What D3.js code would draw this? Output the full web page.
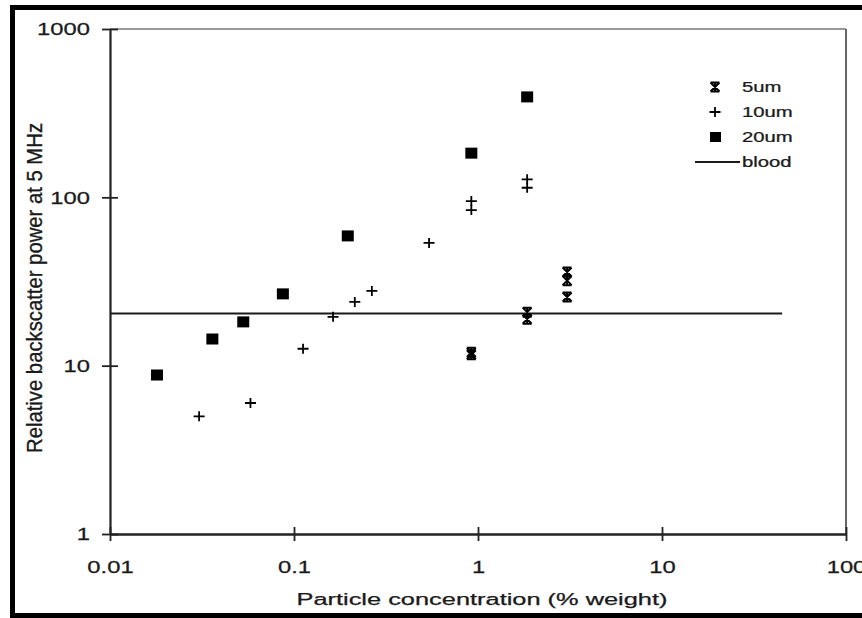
<!DOCTYPE html>
<html>
<head>
<meta charset="UTF-8" />
<script src="https://d3js.org/d3.v7.min.js"></script>
<title>Backscatter vs concentration</title>
<style>
  body { margin: 0; background: #fff; }
  text { font-family: "Liberation Sans", Arial, Helvetica, sans-serif; fill: #1a1a1a; stroke: #1a1a1a; stroke-width: 0.25px; }
</style>
</head>
<body>
<script type="text/javascript">

// data
var xTicks = [0.01, 0.1, 1, 10, 100];
var yTicks = [1, 10, 100, 1000];

var um5x = [0.92, 0.92, 1.85, 1.85, 3.05, 3.05, 3.05];
var um5y = [12.0, 11.6, 20.8, 18.9, 36, 32, 25.6];

var um10x = [0.0305, 0.058, 0.112, 0.163, 0.214, 0.265, 0.542, 0.92, 0.92, 1.85, 1.85];
var um10y = [5.0, 6.0, 12.6, 19.5, 23.9, 27.8, 53.6, 95, 84, 128, 114];

var um20x = [0.018, 0.036, 0.053, 0.087, 0.196, 0.92, 1.85];
var um20y = [8.8, 14.4, 18.2, 26.7, 59, 183, 395];

var bloodX = [0.01, 45];
var bloodY = [20.4, 20.4];

var legendNames = ["5um", "10um", "20um", "blood"];

var W = 862, H = 618;
var margin = {top: 29, right: 16, bottom: 84, left: 110},
    width = 846 - margin.left,
    height = 534 - margin.top;

var svg = d3.select("body").append("svg")
    .attr("width", W)
    .attr("height", H);

svg.append("rect").attr("width", W).attr("height", H).attr("fill", "#fff");

// thick outer frame
svg.append("rect")
    .attr("x", 12.5).attr("y", 7.5)
    .attr("width", 870).attr("height", 608)
    .attr("fill", "none")
    .attr("stroke", "#000")
    .attr("stroke-width", 5);

var g = svg.append("g")
    .attr("transform", "translate(" + margin.left + "," + margin.top + ")");

var x = d3.scaleLog().domain([0.01, 100]).range([0, width]);
var y = d3.scaleLog().domain([1, 1000]).range([height, 0]);

// top and right box lines
g.append("line").attr("x1", 0).attr("x2", width).attr("y1", 0).attr("y2", 0)
    .attr("stroke", "#777").attr("stroke-width", 1.5);
g.append("line").attr("x1", width).attr("x2", width).attr("y1", 0).attr("y2", height)
    .attr("stroke", "#666").attr("stroke-width", 2);

// X axis
var xa = g.append("g")
    .attr("transform", "translate(0," + height + ")")
    .call(d3.axisBottom(x).tickValues(xTicks).tickFormat(d3.format("~g")).tickSizeOuter(0));
xa.select(".domain").attr("stroke", "#222").attr("stroke-width", 2.5);
xa.selectAll(".tick line").attr("y1", -7).attr("y2", 7).attr("stroke", "#222").attr("stroke-width", 1.8);
xa.selectAll(".tick text")
    .attr("y", 39).attr("dy", 0)
    .attr("transform", "scale(1.4,1)")
    .style("font-size", "17px").attr("fill", "#1a1a1a");

// Y axis
var ya = g.append("g")
    .call(d3.axisLeft(y).tickValues(yTicks).tickFormat(d3.format("~g")).tickSizeOuter(0));
ya.select(".domain").attr("stroke", "#222").attr("stroke-width", 2.2);
ya.selectAll(".tick line").attr("x1", -8).attr("x2", 8).attr("stroke", "#222").attr("stroke-width", 1.8);
ya.selectAll(".tick text")
    .attr("x", -20 / 1.4).attr("dy", "0.35em")
    .attr("transform", "scale(1.4,1)")
    .style("font-size", "17px").attr("fill", "#1a1a1a");

// axis titles
svg.append("text")
    .attr("x", 482).attr("y", 605)
    .attr("text-anchor", "middle")
    .attr("textLength", 371).attr("lengthAdjust", "spacingAndGlyphs")
    .style("font-size", "16px")
    .text("Particle concentration (% weight)");

svg.append("text")
    .attr("transform", "translate(42,288) scale(1.4,1) rotate(-90)")
    .attr("text-anchor", "middle")
    .attr("textLength", 330).attr("lengthAdjust", "spacingAndGlyphs")
    .style("font-size", "16px")
    .text("Relative backscatter power at 5 MHz");

// marker shapes
var hourglass = "M-4.5,-4.5L4.5,4.5M4.5,-4.5L-4.5,4.5M-4.5,-4.5H4.5M-4.5,4.5H4.5M0,-4.5V4.5";
var plus = "M-5.5,0H5.5M0,-5V5";

// blood line
var line = d3.line().x(function(d) { return x(d[0]); }).y(function(d) { return y(d[1]); });
g.append("path")
    .datum(d3.zip(bloodX, bloodY))
    .attr("d", line)
    .attr("fill", "none").attr("stroke", "#1a1a1a").attr("stroke-width", 2);

// 20um squares
g.selectAll(".sq")
    .data(d3.zip(um20x, um20y))
    .enter().append("rect")
    .attr("x", function(d) { return x(d[0]) - 6; })
    .attr("y", function(d) { return y(d[1]) - 5.5; })
    .attr("width", 12).attr("height", 11)
    .attr("fill", "#000");

// 10um plus
g.selectAll(".pl")
    .data(d3.zip(um10x, um10y))
    .enter().append("path")
    .attr("transform", function(d) { return "translate(" + x(d[0]) + "," + y(d[1]) + ")"; })
    .attr("d", plus)
    .attr("fill", "none").attr("stroke", "#000").attr("stroke-width", 1.8);

// 5um stars
g.selectAll(".st")
    .data(d3.zip(um5x, um5y))
    .enter().append("path")
    .attr("transform", function(d) { return "translate(" + x(d[0]) + "," + y(d[1]) + ")"; })
    .attr("d", hourglass)
    .attr("fill", "none").attr("stroke", "#000").attr("stroke-width", 2);

// legend
var leg = svg.append("g");
var rowY = [87, 112, 137, 162];
leg.append("path").attr("transform", "translate(715," + rowY[0] + ")")
    .attr("d", hourglass).attr("fill", "none").attr("stroke", "#000").attr("stroke-width", 2);
leg.append("path").attr("transform", "translate(715," + rowY[1] + ")")
    .attr("d", plus).attr("fill", "none").attr("stroke", "#000").attr("stroke-width", 1.8);
leg.append("rect").attr("x", 710).attr("y", rowY[2] - 5).attr("width", 11).attr("height", 10)
    .attr("fill", "#000");
leg.append("line").attr("x1", 695).attr("x2", 740).attr("y1", rowY[3]).attr("y2", rowY[3])
    .attr("stroke", "#1a1a1a").attr("stroke-width", 2);

leg.selectAll(".lt")
    .data(legendNames)
    .enter().append("text")
    .attr("transform", function(d, i) { return "translate(742," + rowY[i] + ") scale(1.45,1)"; })
    .attr("dy", "0.36em")
    .style("font-size", "14px")
    .text(function(d) { return d; });

</script>
</body>
</html>
